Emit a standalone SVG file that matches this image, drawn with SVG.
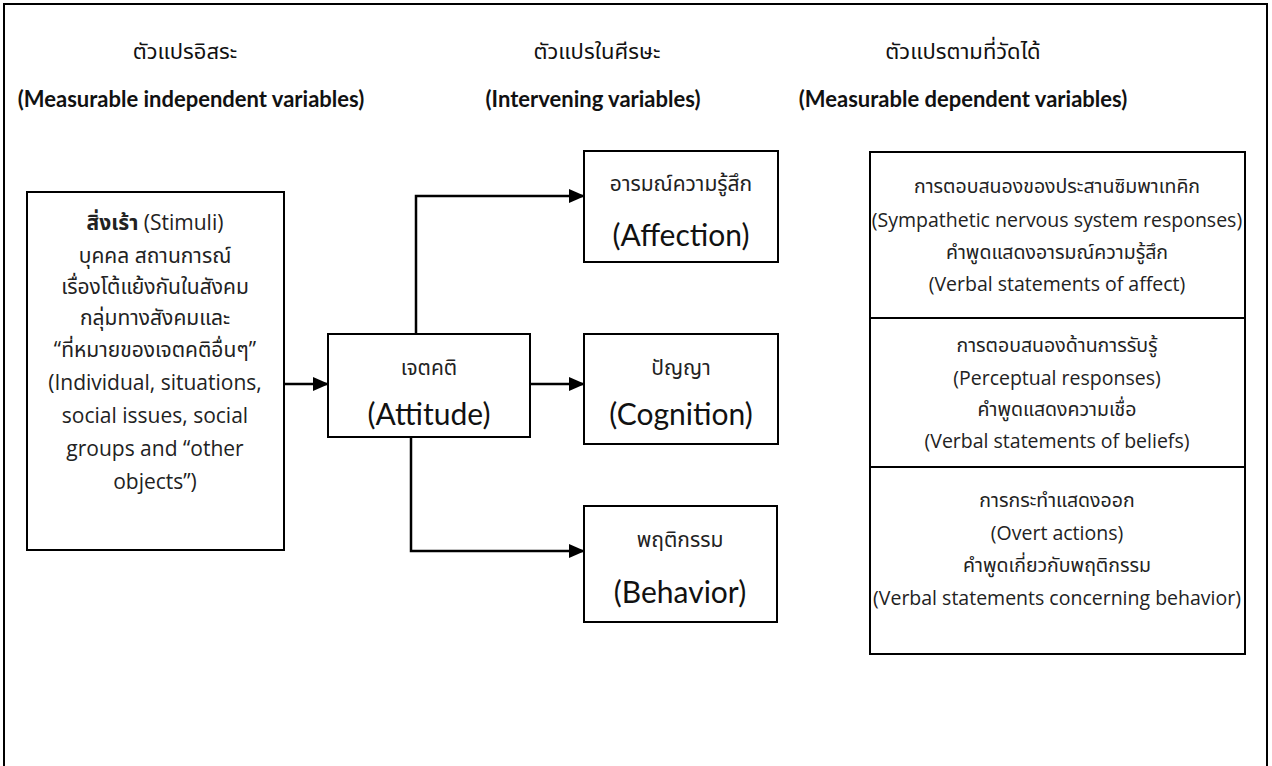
<svg xmlns="http://www.w3.org/2000/svg" width="1272" height="766" viewBox="0 0 1272 766">
  <style>
    .frame { fill: none; stroke: #000; stroke-width: 2; }
    .box { fill: #fff; stroke: #000; stroke-width: 2; }
    .hd-th { font-family: "Noto Sans", "Noto Sans Thai", sans-serif; font-size: 22px; fill: #111; text-anchor: middle; }
    .hd-en { font-family: Lato, "Liberation Sans", sans-serif; font-weight: bold; font-size: 22px; fill: #111; text-anchor: middle; }
    .body { font-family: "Open Sans", "Noto Sans", "Noto Sans Thai", sans-serif; font-size: 19.5px; fill: #222; text-anchor: middle; }
    .stim { font-family: "Open Sans", "Noto Sans", "Noto Sans Thai", sans-serif; font-size: 21px; fill: #222; text-anchor: middle; }
    .mid-th { font-family: "Noto Sans", "Noto Sans Thai", sans-serif; font-size: 21px; fill: #222; text-anchor: middle; }
    .mid-en { font-family: Lato, "Liberation Sans", sans-serif; font-size: 30px; fill: #111; text-anchor: middle; }
    .conn { fill: none; stroke: #000; stroke-width: 2.5; }
  </style>
  <defs>
    <marker id="arrow" markerUnits="userSpaceOnUse" markerWidth="16" markerHeight="14" refX="15" refY="7" orient="auto">
      <path d="M0,0 L16,7 L0,14 Z" fill="#000"/>
    </marker>
  </defs>

  <rect x="0" y="0" width="1272" height="766" fill="#fff"/>
  <!-- outer frame, open at the bottom -->
  <path class="frame" d="M4,770 V4 H1267 V770"/>

  <!-- column headings -->
  <g id="headings">
    <text class="hd-th" x="185" y="59">ตัวแปรอิสระ</text>
    <text class="hd-en" x="191" y="107">(Measurable independent variables)</text>
    <text class="hd-th" x="597" y="59">ตัวแปรในศีรษะ</text>
    <text class="hd-en" x="593" y="107">(Intervening variables)</text>
    <text class="hd-th" x="963" y="59">ตัวแปรตามที่วัดได้</text>
    <text class="hd-en" x="963" y="107">(Measurable dependent variables)</text>
  </g>

  <!-- connectors -->
  <g id="connectors">
    <path class="conn" d="M284,384 H328" marker-end="url(#arrow)"/>
    <path class="conn" d="M416,334 V196 H584" marker-end="url(#arrow)"/>
    <path class="conn" d="M530,384 H584" marker-end="url(#arrow)"/>
    <path class="conn" d="M411,437 V551 H584" marker-end="url(#arrow)"/>
  </g>

  <!-- stimuli -->
  <g id="stimuli">
    <rect class="box" x="27" y="192" width="257" height="358"/>
    <text class="stim" x="155" y="230"><tspan font-weight="bold">สิ่งเร้า</tspan> (Stimuli)</text>
    <text class="stim" x="155" y="263">บุคคล สถานการณ์</text>
    <text class="stim" x="155" y="294">เรื่องโต้แย้งกันในสังคม</text>
    <text class="stim" x="155" y="325">กลุ่มทางสังคมและ</text>
    <text class="stim" x="155" y="357">“ที่หมายของเจตคติอื่นๆ”</text>
    <text class="stim" x="155" y="390">(Individual, situations,</text>
    <text class="stim" x="155" y="423">social issues, social</text>
    <text class="stim" x="155" y="456">groups and “other</text>
    <text class="stim" x="155" y="489">objects”)</text>
  </g>

  <!-- attitude -->
  <g id="attitude">
    <rect class="box" x="328" y="334" width="202" height="103"/>
    <text class="mid-th" x="429" y="375">เจตคติ</text>
    <text class="mid-en" x="429" y="425">(Attitude)</text>
  </g>

  <!-- affection -->
  <g id="affection">
    <rect class="box" x="584" y="151" width="194" height="111"/>
    <text class="mid-th" x="681" y="191">อารมณ์ความรู้สึก</text>
    <text class="mid-en" x="681" y="246">(Affection)</text>
  </g>

  <!-- cognition -->
  <g id="cognition">
    <rect class="box" x="584" y="334" width="194" height="110"/>
    <text class="mid-th" x="681" y="375">ปัญญา</text>
    <text class="mid-en" x="681" y="425">(Cognition)</text>
  </g>

  <!-- behavior -->
  <g id="behavior">
    <rect class="box" x="584" y="506" width="193" height="116"/>
    <text class="mid-th" x="680" y="547">พฤติกรรม</text>
    <text class="mid-en" x="680" y="603">(Behavior)</text>
  </g>

  <!-- measurable responses -->
  <g id="affect-responses">
    <rect class="box" x="870" y="152" width="375" height="166"/>
    <text class="body" x="1057" y="193">การตอบสนองของประสานซิมพาเทคิก</text>
    <text class="body" x="1057" y="227">(Sympathetic nervous system responses)</text>
    <text class="body" x="1057" y="259">คำพูดแสดงอารมณ์ความรู้สึก</text>
    <text class="body" x="1057" y="291">(Verbal statements of affect)</text>
  </g>
  <g id="belief-responses">
    <rect class="box" x="870" y="318" width="375" height="149"/>
    <text class="body" x="1057" y="352">การตอบสนองด้านการรับรู้</text>
    <text class="body" x="1057" y="385">(Perceptual responses)</text>
    <text class="body" x="1057" y="416">คำพูดแสดงความเชื่อ</text>
    <text class="body" x="1057" y="448">(Verbal statements of beliefs)</text>
  </g>
  <g id="behavior-responses">
    <rect class="box" x="870" y="467" width="375" height="187"/>
    <text class="body" x="1057" y="507">การกระทำแสดงออก</text>
    <text class="body" x="1057" y="540">(Overt actions)</text>
    <text class="body" x="1057" y="572">คำพูดเกี่ยวกับพฤติกรรม</text>
    <text class="body" x="1057" y="605">(Verbal statements concerning behavior)</text>
  </g>
</svg>
